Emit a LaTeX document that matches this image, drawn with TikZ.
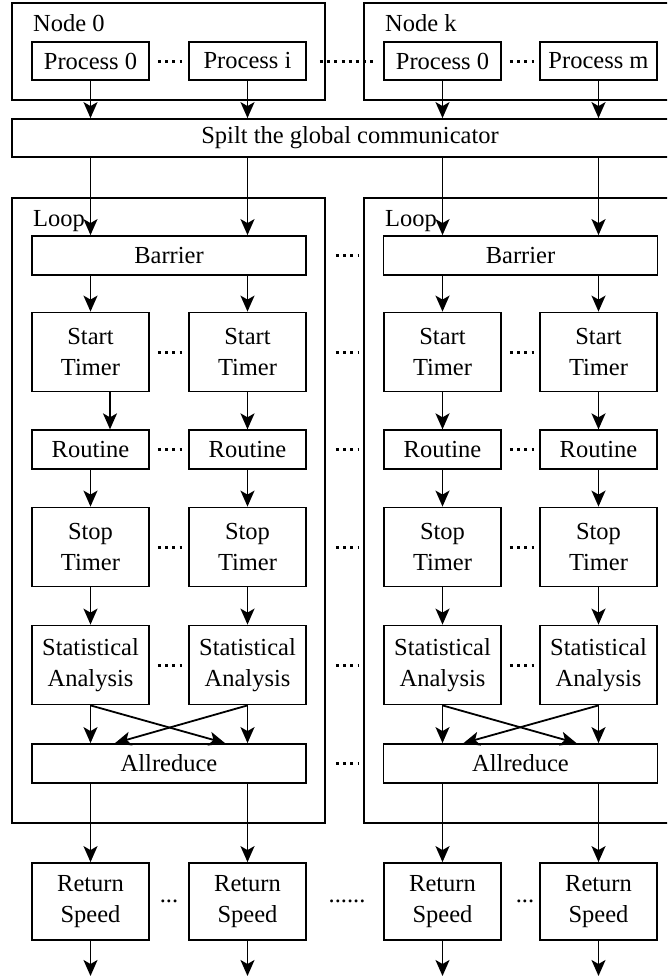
\documentclass[tikz,border=0pt]{standalone}
\usepackage{fontspec}
\setmainfont{Liberation Serif}
\newfontfamily\figfont{Liberation Serif}
\usetikzlibrary{arrows.meta, positioning, calc}

\tikzset{
  box/.style={draw, line width=1.8pt, inner sep=0pt, align=center, minimum width=117pt},
  lowbox/.style={box, minimum height=38.5pt},
  tallbox/.style={box, minimum height=79pt},
  widebox/.style={box, minimum width=274pt, minimum height=39pt},
  frame/.style={draw, line width=1.8pt, inner sep=0pt},
  lbl/.style={anchor=base west, inner sep=0pt},
  arr/.style={-{Stealth[length=16pt, width=14pt, inset=4pt]}, line width=1.8pt},
  dots/.style={line width=3pt, dash pattern=on 3pt off 4.2pt},
}

\begin{document}
\begin{tikzpicture}[x=1pt, y=-1pt, every node/.style={font=\figfont\fontsize{24.5}{31}\selectfont}]
  \useasboundingbox (0,0) rectangle (667,977);
  \clip (0,0) rectangle (667,977);

  % compute nodes and their processes
  \node[frame, minimum width=313pt, minimum height=97pt] (nodeL) at (168.5,51.5) {};
  \node[frame, minimum width=336pt, minimum height=97pt] (nodeR) at (532,51.5) {};
  \node[lbl] at (33,31) {Node 0};
  \node[lbl] at (385,31) {Node k};
  \node[lowbox] (p-a) at (90.5,61) {Process 0};
  \node[lowbox] (p-b) at (247.5,61) {Process i};
  \node[lowbox] (p-c) at (442.5,61) {Process 0};
  \node[lowbox] (p-d) at (598.5,61) {Process m};
  \node[frame, minimum width=676pt, minimum height=38pt] (spilt) at (350,138) {Spilt the global communicator};

  % measuring loops
  \node[frame, minimum width=313pt, minimum height=625pt] (loopL) at (168.5,510.5) {};
  \node[frame, minimum width=336pt, minimum height=625pt] (loopR) at (532,510.5) {};
  \node[lbl] at (33,226) {Loop};
  \node[lbl] at (385,226) {Loop};
  \node[widebox] (barL) at (169,255.5) {Barrier};
  \node[widebox] (barR) at (520.5,255.5) {Barrier};
  \node[widebox] (allL) at (169,763.5) {Allreduce};
  \node[widebox] (allR) at (520.5,763.5) {Allreduce};

  \foreach \c/\x/\g/\o in {a/90.5/L/19.5, b/247.5/L/0, c/442.5/R/0, d/598.5/R/0} {
    \node[tallbox] (st-\c) at (\x,352) {Start\\Timer};
    \node[lowbox] (rt-\c) at (\x,449.5) {Routine};
    \node[tallbox] (sp-\c) at (\x,547) {Stop\\Timer};
    \node[tallbox] (sa-\c) at (\x,665) {Statistical\\Analysis};
    \node[tallbox, minimum height=77pt] (rs-\c) at (\x,901.5) {Return\\Speed};
    \coordinate (out-\c) at (\x,976);

    \draw[arr] (p-\c.south) -- (spilt.north -| p-\c);
    \draw[arr] (spilt.south -| p-\c) -- (bar\g.north -| p-\c);
    \draw[arr] (bar\g.south -| st-\c) -- (st-\c.north);
    \draw[arr] ([xshift=\o]st-\c.south) -- ([xshift=\o]rt-\c.north);
    \draw[arr] (rt-\c.south) -- (sp-\c.north);
    \draw[arr] (sp-\c.south) -- (sa-\c.north);
    \draw[arr] (sa-\c.south) -- (all\g.north -| sa-\c);
    \draw[arr] (all\g.south -| rs-\c) -- (rs-\c.north);
    \draw[arr] (rs-\c.south) -- (out-\c);
  }

  % exchange before the reduction
  \draw[arr] (sa-a.south) -- ([xshift=56]allL.north);
  \draw[arr] (sa-b.south) -- ([xshift=-54]allL.north);
  \draw[arr] (sa-c.south) -- ([xshift=56]allR.north);
  \draw[arr] (sa-d.south) -- ([xshift=-57]allR.north);

  % dotted gaps
  \draw[dots, shorten <=8pt, shorten >=6pt] (p-a.east) -- (p-b.west);
  \draw[dots, shorten <=13pt, shorten >=6pt] (p-b.east) -- (p-c.west);
  \draw[dots, shorten <=8pt, shorten >=5pt] (p-c.east) -- (p-d.west);
  \foreach \n in {st, rt, sp, sa} {
    \draw[dots, shorten <=8pt, shorten >=6pt] (\n-a.east) -- (\n-b.west);
    \draw[dots, shorten <=8pt, shorten >=5pt] (\n-c.east) -- (\n-d.west);
  }
  \foreach \n in {barL, st-b, rt-b, sp-b, sa-b, allL}
    \draw[dots, shorten <=10pt, shorten >=4pt] (loopL.east |- \n) -- (loopR.west |- \n);
  \node[anchor=base, inner sep=0pt] (gap-ab) at (169,902) {...};
  \node[anchor=base, inner sep=0pt] (gap-bc) at (347,902) {......};
  \node[anchor=base, inner sep=0pt] (gap-cd) at (525,902) {...};
\end{tikzpicture}
\end{document}
